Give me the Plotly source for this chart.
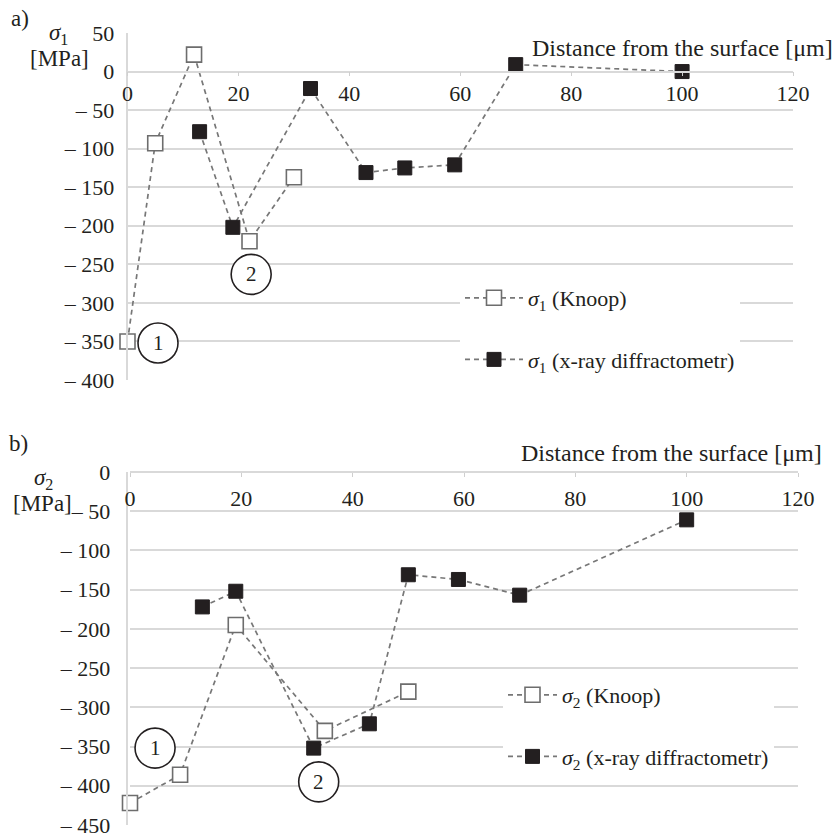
import plotly.graph_objects as go

# ---------------- data ----------------
x_ticks = [0, 20, 40, 60, 80, 100, 120]
a_y_ticks = [50, 0, -50, -100, -150, -200, -250, -300, -350, -400]
b_y_ticks = [0, -50, -100, -150, -200, -250, -300, -350, -400, -450]

a_knoop_x = [0, 5, 12, 22, 30]
a_knoop_y = [-350, -93, 22, -220, -137]
a_xray_x = [13, 19, 33, 43, 50, 59, 70, 100]
a_xray_y = [-78, -202, -22, -131, -125, -121, 9, 0]

b_knoop_x = [0, 9, 19, 35, 50]
b_knoop_y = [-422, -386, -195, -330, -280]
b_xray_x = [13, 19, 33, 43, 50, 59, 70, 100]
b_xray_y = [-172, -152, -352, -321, -131, -137, -157, -61]

# circled zone labels (data coordinates)
a_zone_x = [5.5, 22.3]
a_zone_y = [-352, -263]
b_zone_x = [4.5, 33.9]
b_zone_y = [-352, -395]
zone_labels = ["1", "2"]


def tick_text(v):
    return str(v) if v >= 0 else "\u2013 " + str(-v)


FONT = "Liberation Serif, Times New Roman, serif"
TXT = "#231f20"
GRID = "#d9d9d9"
LINE = "#777777"
OFF = 8  # page body margin
W, H = 840 - OFF, 836 - OFF


def px_x(p):
    return (p - OFF) / W


def px_y(p):
    return 1 - (p - OFF) / H


a_xdom = [px_x(127.5), px_x(793)]
a_ydom = [px_y(380), px_y(33)]
b_xdom = [px_x(130), px_x(798)]
b_ydom = [px_y(825), px_y(472)]

a_yrange = [-400, 50]
b_yrange = [-450, 0]
a_xpos = a_ydom[0] + (0 - a_yrange[0]) / (a_yrange[1] - a_yrange[0]) * (a_ydom[1] - a_ydom[0])
b_xpos = b_ydom[0] + (0 - b_yrange[0]) / (b_yrange[1] - b_yrange[0]) * (b_ydom[1] - b_ydom[0])

fig = go.Figure()

line_style = dict(color=LINE, width=1.7, dash="5px,4px")
hollow = dict(symbol="square", size=15, color="white", line=dict(color="#6d6d6d", width=1.6))
filled = dict(symbol="square", size=14, color=TXT, line=dict(color=TXT, width=1))

fig.add_trace(go.Scatter(x=a_knoop_x, y=a_knoop_y, mode="lines+markers", line=line_style,
                         marker=hollow, xaxis="x", yaxis="y", cliponaxis=False,
                         name="<i>σ</i><sub>1</sub> (Knoop)", legend="legend", legendgroup="a1"))
fig.add_trace(go.Scatter(x=a_xray_x, y=a_xray_y, mode="lines+markers", line=line_style,
                         marker=filled, xaxis="x", yaxis="y", cliponaxis=False,
                         name="<i>σ</i><sub>1</sub> (x-ray diffractometr)", legend="legend", legendgroup="a2"))
fig.add_trace(go.Scatter(x=b_knoop_x, y=b_knoop_y, mode="lines+markers", line=line_style,
                         marker=hollow, xaxis="x2", yaxis="y2", cliponaxis=False,
                         name="<i>σ</i><sub>2</sub> (Knoop)", legend="legend2", legendgroup="b1"))
fig.add_trace(go.Scatter(x=b_xray_x, y=b_xray_y, mode="lines+markers", line=line_style,
                         marker=filled, xaxis="x2", yaxis="y2", cliponaxis=False,
                         name="<i>σ</i><sub>2</sub> (x-ray diffractometr)", legend="legend2", legendgroup="b2"))

tickfont = dict(family=FONT, size=22, color=TXT)

xcommon = dict(range=[0, 120], tickvals=x_ticks, ticktext=[str(v) for v in x_ticks],
               showgrid=False, zeroline=False, showline=True, linecolor=GRID, linewidth=1.5,
               ticks="outside", ticklen=4, tickcolor="#cfcfcf", side="bottom",
               tickfont=tickfont, anchor="free", automargin=False, ticklabeloverflow="allow")
ycommon = dict(showgrid=True, gridcolor=GRID, gridwidth=1.5, zeroline=False, showline=True,
               linecolor=GRID, linewidth=1.5, ticks="", tickfont=tickfont, automargin=False,
               ticklabeloverflow="allow")

fig.update_layout(
    width=W, height=H,
    margin=dict(l=0, r=0, t=0, b=0),
    paper_bgcolor="white", plot_bgcolor="white",
    font=dict(family=FONT, size=22, color=TXT),
    xaxis=dict(domain=a_xdom, position=a_xpos, ticklabelstandoff=-2, **xcommon),
    yaxis=dict(domain=a_ydom, range=a_yrange, tickvals=a_y_ticks,
               ticktext=[tick_text(v) for v in a_y_ticks], ticklabelstandoff=7, **ycommon),
    xaxis2=dict(domain=b_xdom, position=b_xpos, ticklabelstandoff=3, **xcommon),
    yaxis2=dict(domain=b_ydom, range=b_yrange, tickvals=b_y_ticks,
                ticktext=[tick_text(v) for v in b_y_ticks], ticklabelstandoff=11, **ycommon),
    legend=dict(x=px_x(460), y=px_y(277), xanchor="left", yanchor="top", bgcolor="white",
                itemwidth=58, tracegroupgap=30,
                font=dict(family=FONT, size=22, color=TXT)),
    legend2=dict(x=px_x(503), y=px_y(674), xanchor="left", yanchor="top", bgcolor="white",
                 itemwidth=49, tracegroupgap=30,
                 font=dict(family=FONT, size=22, color=TXT)),
)

annotations = [
    dict(text="a)", x=px_x(9), y=px_y(19), xanchor="left", yanchor="middle", size=23),
    dict(text="b)", x=px_x(7), y=px_y(443), xanchor="left", yanchor="middle", size=23),
    dict(text="<i>σ</i><sub>1</sub>", x=px_x(58), y=px_y(34), xanchor="center", yanchor="middle", size=23),
    dict(text="[MPa]", x=px_x(59), y=px_y(58), xanchor="center", yanchor="middle", size=23),
    dict(text="<i>σ</i><sub>2</sub>", x=px_x(43), y=px_y(479), xanchor="center", yanchor="middle", size=23),
    dict(text="[MPa]", x=px_x(42), y=px_y(503), xanchor="center", yanchor="middle", size=23),
    dict(text="Distance from the surface [μm]", x=px_x(835), y=px_y(48), xanchor="right",
         yanchor="middle", size=24),
    dict(text="Distance from the surface [μm]", x=px_x(824), y=px_y(453), xanchor="right",
         yanchor="middle", size=24),
]
for a in annotations:
    s = a.pop("size")
    a.update(xref="paper", yref="paper", showarrow=False, font=dict(family=FONT, size=s, color=TXT))

shapes = []
for xs, ys, xr, yr in [(a_zone_x, a_zone_y, "x", "y"), (b_zone_x, b_zone_y, "x2", "y2")]:
    for cx, cy, lab in zip(xs, ys, zone_labels):
        shapes.append(dict(type="circle", xref=xr, yref=yr, xsizemode="pixel", ysizemode="pixel",
                           xanchor=cx, yanchor=cy, x0=-20, x1=20, y0=-20, y1=20,
                           line=dict(color=TXT, width=1.6), fillcolor="white", layer="above"))
        annotations.append(dict(text=lab, x=cx, y=cy, xref=xr, yref=yr, showarrow=False,
                                xanchor="center", yanchor="middle",
                                font=dict(family=FONT, size=21, color=TXT)))

fig.update_layout(annotations=annotations, shapes=shapes)

fig.write_html("out.html")
